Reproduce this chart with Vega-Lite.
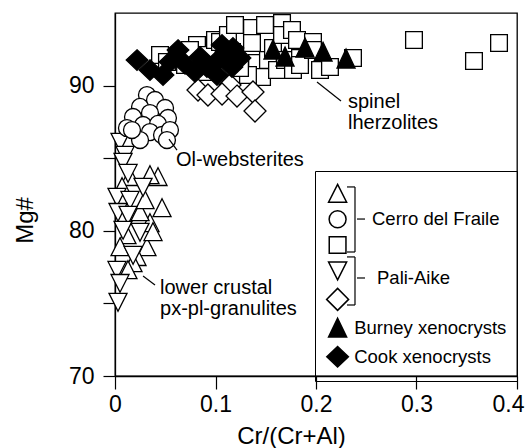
{
  "$schema": "https://vega.github.io/schema/vega-lite/v6.json",
  "width": 402,
  "height": 363,
  "autosize": {"type": "none"},
  "padding": {"left": 115, "top": 13, "right": 11, "bottom": 72},
  "background": "white",
  "config": {
    "font": "Liberation Sans",
    "view": {"stroke": "black", "strokeWidth": 1.3},
    "axis": {
      "grid": false,
      "domainColor": "black",
      "domainWidth": 1.3,
      "tickColor": "black",
      "tickWidth": 1.2,
      "labelColor": "black",
      "titleColor": "black",
      "labelFont": "Liberation Sans",
      "titleFont": "Liberation Sans",
      "titleFontWeight": "normal",
      "labelFontSize": 23,
      "titleFontSize": 24
    }
  },
  "datasets": {
    "samples": [
      {"suite": "Cerro del Fraile granulite", "x": 0.0468, "y": 81.57},
      {"suite": "Cerro del Fraile granulite", "x": 0.0428, "y": 83.71},
      {"suite": "Cerro del Fraile granulite", "x": 0.0348, "y": 83.84},
      {"suite": "Cerro del Fraile granulite", "x": 0.0149, "y": 83.71},
      {"suite": "Cerro del Fraile granulite", "x": 0.007, "y": 83.02},
      {"suite": "Cerro del Fraile granulite", "x": 0.0318, "y": 78.88},
      {"suite": "Cerro del Fraile granulite", "x": 0.0219, "y": 78.2},
      {"suite": "Cerro del Fraile granulite", "x": 0.0119, "y": 79.71},
      {"suite": "Cerro del Fraile granulite", "x": 0.005, "y": 78.88},
      {"suite": "Cerro del Fraile granulite", "x": 0.0348, "y": 80.54},
      {"suite": "Cerro del Fraile granulite", "x": 0.0179, "y": 77.78},
      {"suite": "Cerro del Fraile granulite", "x": 0.0249, "y": 81.29},
      {"suite": "Cerro del Fraile granulite", "x": 0.0299, "y": 82.12},
      {"suite": "Cerro del Fraile granulite", "x": 0.0129, "y": 77.3},
      {"suite": "Cerro del Fraile granulite", "x": 0.0378, "y": 79.92},
      {"suite": "Pali-Aike granulite", "x": 0.005, "y": 86.12},
      {"suite": "Pali-Aike granulite", "x": 0.01, "y": 85.22},
      {"suite": "Pali-Aike granulite", "x": 0.008, "y": 84.74},
      {"suite": "Pali-Aike granulite", "x": 0.013, "y": 83.98},
      {"suite": "Pali-Aike granulite", "x": 0.002, "y": 82.33},
      {"suite": "Pali-Aike granulite", "x": 0.0149, "y": 82.12},
      {"suite": "Pali-Aike granulite", "x": 0.003, "y": 81.29},
      {"suite": "Pali-Aike granulite", "x": 0.013, "y": 81.09},
      {"suite": "Pali-Aike granulite", "x": 0.0279, "y": 83.02},
      {"suite": "Pali-Aike granulite", "x": 0.008, "y": 80.06},
      {"suite": "Pali-Aike granulite", "x": 0.0249, "y": 79.92},
      {"suite": "Pali-Aike granulite", "x": 0.018, "y": 78.33},
      {"suite": "Pali-Aike granulite", "x": 0.002, "y": 77.3},
      {"suite": "Pali-Aike granulite", "x": 0.005, "y": 76.4},
      {"suite": "Pali-Aike granulite", "x": 0.003, "y": 75.1},
      {"suite": "Cerro del Fraile Ol-websterite", "x": 0.0318, "y": 89.35},
      {"suite": "Cerro del Fraile Ol-websterite", "x": 0.0398, "y": 89.01},
      {"suite": "Cerro del Fraile Ol-websterite", "x": 0.0249, "y": 88.53},
      {"suite": "Cerro del Fraile Ol-websterite", "x": 0.0498, "y": 88.46},
      {"suite": "Cerro del Fraile Ol-websterite", "x": 0.0179, "y": 87.84},
      {"suite": "Cerro del Fraile Ol-websterite", "x": 0.0348, "y": 88.11},
      {"suite": "Cerro del Fraile Ol-websterite", "x": 0.0527, "y": 87.77},
      {"suite": "Cerro del Fraile Ol-websterite", "x": 0.0279, "y": 87.29},
      {"suite": "Cerro del Fraile Ol-websterite", "x": 0.0119, "y": 87.08},
      {"suite": "Cerro del Fraile Ol-websterite", "x": 0.0428, "y": 87.36},
      {"suite": "Cerro del Fraile Ol-websterite", "x": 0.0348, "y": 86.8},
      {"suite": "Cerro del Fraile Ol-websterite", "x": 0.0468, "y": 86.6},
      {"suite": "Cerro del Fraile Ol-websterite", "x": 0.0249, "y": 86.25},
      {"suite": "Cerro del Fraile Ol-websterite", "x": 0.0169, "y": 86.94},
      {"suite": "Cerro del Fraile Ol-websterite", "x": 0.0547, "y": 86.94},
      {"suite": "Cerro del Fraile Ol-websterite", "x": 0.0517, "y": 86.25},
      {"suite": "Cerro del Fraile spinel lherzolite", "x": 0.0448, "y": 92.11},
      {"suite": "Cerro del Fraile spinel lherzolite", "x": 0.0517, "y": 91.63},
      {"suite": "Cerro del Fraile spinel lherzolite", "x": 0.0816, "y": 92.8},
      {"suite": "Cerro del Fraile spinel lherzolite", "x": 0.0915, "y": 92.11},
      {"suite": "Cerro del Fraile spinel lherzolite", "x": 0.0995, "y": 93.14},
      {"suite": "Cerro del Fraile spinel lherzolite", "x": 0.1045, "y": 93.0},
      {"suite": "Cerro del Fraile spinel lherzolite", "x": 0.1124, "y": 93.48},
      {"suite": "Cerro del Fraile spinel lherzolite", "x": 0.1164, "y": 92.31},
      {"suite": "Cerro del Fraile spinel lherzolite", "x": 0.1194, "y": 94.17},
      {"suite": "Cerro del Fraile spinel lherzolite", "x": 0.1363, "y": 93.97},
      {"suite": "Cerro del Fraile spinel lherzolite", "x": 0.1363, "y": 92.93},
      {"suite": "Cerro del Fraile spinel lherzolite", "x": 0.1413, "y": 91.56},
      {"suite": "Cerro del Fraile spinel lherzolite", "x": 0.1463, "y": 90.59},
      {"suite": "Cerro del Fraile spinel lherzolite", "x": 0.1493, "y": 94.17},
      {"suite": "Cerro del Fraile spinel lherzolite", "x": 0.1522, "y": 91.76},
      {"suite": "Cerro del Fraile spinel lherzolite", "x": 0.1572, "y": 92.59},
      {"suite": "Cerro del Fraile spinel lherzolite", "x": 0.1612, "y": 91.07},
      {"suite": "Cerro del Fraile spinel lherzolite", "x": 0.1662, "y": 94.31},
      {"suite": "Cerro del Fraile spinel lherzolite", "x": 0.1662, "y": 93.48},
      {"suite": "Cerro del Fraile spinel lherzolite", "x": 0.1692, "y": 91.76},
      {"suite": "Cerro del Fraile spinel lherzolite", "x": 0.1761, "y": 93.83},
      {"suite": "Cerro del Fraile spinel lherzolite", "x": 0.1771, "y": 91.07},
      {"suite": "Cerro del Fraile spinel lherzolite", "x": 0.1811, "y": 93.14},
      {"suite": "Cerro del Fraile spinel lherzolite", "x": 0.1841, "y": 91.9},
      {"suite": "Cerro del Fraile spinel lherzolite", "x": 0.1841, "y": 91.42},
      {"suite": "Cerro del Fraile spinel lherzolite", "x": 0.197, "y": 93.0},
      {"suite": "Cerro del Fraile spinel lherzolite", "x": 0.197, "y": 92.45},
      {"suite": "Cerro del Fraile spinel lherzolite", "x": 0.204, "y": 91.07},
      {"suite": "Cerro del Fraile spinel lherzolite", "x": 0.2139, "y": 91.28},
      {"suite": "Cerro del Fraile spinel lherzolite", "x": 0.2368, "y": 91.9},
      {"suite": "Cerro del Fraile spinel lherzolite", "x": 0.1323, "y": 90.73},
      {"suite": "Cerro del Fraile spinel lherzolite", "x": 0.1244, "y": 91.21},
      {"suite": "Cerro del Fraile spinel lherzolite", "x": 0.0896, "y": 90.94},
      {"suite": "Cerro del Fraile spinel lherzolite", "x": 0.0697, "y": 91.42},
      {"suite": "Cerro del Fraile spinel lherzolite", "x": 0.0746, "y": 92.45},
      {"suite": "Cerro del Fraile spinel lherzolite", "x": 0.2975, "y": 93.14},
      {"suite": "Cerro del Fraile spinel lherzolite", "x": 0.3821, "y": 92.93},
      {"suite": "Cerro del Fraile spinel lherzolite", "x": 0.3572, "y": 91.69},
      {"suite": "Pali-Aike spinel lherzolite", "x": 0.1144, "y": 90.04},
      {"suite": "Pali-Aike spinel lherzolite", "x": 0.0826, "y": 89.7},
      {"suite": "Pali-Aike spinel lherzolite", "x": 0.0925, "y": 89.35},
      {"suite": "Pali-Aike spinel lherzolite", "x": 0.1065, "y": 89.42},
      {"suite": "Pali-Aike spinel lherzolite", "x": 0.1214, "y": 89.28},
      {"suite": "Pali-Aike spinel lherzolite", "x": 0.1373, "y": 89.56},
      {"suite": "Pali-Aike spinel lherzolite", "x": 0.1393, "y": 88.25},
      {"suite": "Burney xenocrysts", "x": 0.1572, "y": 92.45},
      {"suite": "Burney xenocrysts", "x": 0.1692, "y": 91.97},
      {"suite": "Burney xenocrysts", "x": 0.1891, "y": 92.59},
      {"suite": "Burney xenocrysts", "x": 0.207, "y": 92.31},
      {"suite": "Burney xenocrysts", "x": 0.2299, "y": 91.83},
      {"suite": "Cook xenocrysts", "x": 0.0219, "y": 91.76},
      {"suite": "Cook xenocrysts", "x": 0.0348, "y": 91.07},
      {"suite": "Cook xenocrysts", "x": 0.0478, "y": 90.73},
      {"suite": "Cook xenocrysts", "x": 0.0627, "y": 92.45},
      {"suite": "Cook xenocrysts", "x": 0.0697, "y": 91.49},
      {"suite": "Cook xenocrysts", "x": 0.0846, "y": 91.97},
      {"suite": "Cook xenocrysts", "x": 0.0915, "y": 91.28},
      {"suite": "Cook xenocrysts", "x": 0.1025, "y": 91.76},
      {"suite": "Cook xenocrysts", "x": 0.1124, "y": 92.11},
      {"suite": "Cook xenocrysts", "x": 0.1174, "y": 92.59},
      {"suite": "Cook xenocrysts", "x": 0.1015, "y": 90.73},
      {"suite": "Cook xenocrysts", "x": 0.1164, "y": 91.28},
      {"suite": "Cook xenocrysts", "x": 0.1244, "y": 91.9},
      {"suite": "Cook xenocrysts", "x": 0.0796, "y": 90.94},
      {"suite": "Cook xenocrysts", "x": 0.0547, "y": 91.63},
      {"suite": "Cook xenocrysts", "x": 0.1065, "y": 92.8}
    ],
    "leaders": [
      {"x": 0.201, "x2": 0.2249, "y": 90.25, "y2": 88.94},
      {"x": 0.0537, "x2": 0.0617, "y": 86.32, "y2": 85.56},
      {"x": 0.0279, "x2": 0.0398, "y": 76.89, "y2": 76.27},
      {"x": 0.2388, "x2": 0.2388, "y": 83.02, "y2": 78.54},
      {"x": 0.2308, "x2": 0.2388, "y": 83.02, "y2": 83.02},
      {"x": 0.2308, "x2": 0.2388, "y": 78.54, "y2": 78.54},
      {"x": 0.2408, "x2": 0.2488, "y": 80.81, "y2": 80.81},
      {"x": 0.2388, "x2": 0.2388, "y": 78.2, "y2": 74.89},
      {"x": 0.2308, "x2": 0.2388, "y": 78.2, "y2": 78.2},
      {"x": 0.2308, "x2": 0.2388, "y": 74.89, "y2": 74.89},
      {"x": 0.2408, "x2": 0.2488, "y": 76.75, "y2": 76.75}
    ],
    "labels": [
      {"x": 0.2318, "y": 88.84, "text": "spinel\nlherzolites"},
      {"x": 0.0607, "y": 84.88, "text": "Ol-websterites"},
      {"x": 0.0448, "y": 76.03, "text": "lower crustal\npx-pl-granulites"}
    ],
    "groups": [
      {"x": 0.2557, "y": 80.81, "text": "Cerro del Fraile"},
      {"x": 0.2607, "y": 76.75, "text": "Pali-Aike"}
    ]
  },
  "layer": [
    {
      "data": {"name": "samples"},
      "mark": {"type": "point", "filled": true, "stroke": "black", "strokeWidth": 1.3, "opacity": 1, "size": 484},
      "encoding": {
        "x": {
          "field": "x", "type": "quantitative",
          "scale": {"domain": [0, 0.4], "nice": false, "zero": false},
          "axis": {
            "values": [0, 0.1, 0.2, 0.3, 0.4],
            "format": ".1~f",
            "tickSize": 13,
            "labelPadding": 4,
            "labelFlush": false,
            "labelOverlap": false,
            "labelOffset": {"condition": {"test": "datum.value > 0.35", "value": -9}, "value": 0},
            "title": "Cr/(Cr+Al)",
            "titlePadding": 8,
            "titleX": 176
          }
        },
        "y": {
          "field": "y", "type": "quantitative",
          "scale": {"domain": [70, 95], "nice": false, "zero": false},
          "axis": {
            "values": [70, 75, 80, 85, 90],
            "labelExpr": "datum.value % 10 === 0 ? datum.label : ''",
            "tickSize": 12,
            "labelPadding": 9,
            "labelOverlap": false,
            "title": "Mg#",
            "titleX": -90,
            "titleY": 207,
            "titleAngle": 270,
            "titleBaseline": "middle",
            "titleAlign": "center"
          }
        },
        "shape": {
          "field": "suite", "type": "nominal",
          "scale": {
            "domain": ["Cerro del Fraile granulite", "Cerro del Fraile Ol-websterite", "Cerro del Fraile spinel lherzolite", "Pali-Aike granulite", "Pali-Aike spinel lherzolite", "Burney xenocrysts", "Cook xenocrysts"],
            "range": [
              "M0,-0.84L0.82,0.78L-0.82,0.78Z",
              "M-0.77,0A0.77,0.77,0,1,0,0.77,0A0.77,0.77,0,1,0,-0.77,0Z",
              "M-0.76,-0.76H0.76V0.76H-0.76Z",
              "M0,0.84L0.82,-0.78L-0.82,-0.78Z",
              "M0,-1L1,0L0,1L-1,0Z",
              "M0,-0.9L0.82,0.82L-0.82,0.82Z",
              "M0,-0.93L0.98,0L0,0.93L-0.98,0Z"
            ]
          },
          "legend": {
            "title": null, "orient": "none", "legendX": 200, "legendY": 158,
            "padding": 10.6, "rowPadding": 1.7, "labelOffset": 4.6, "symbolSize": 484,
            "strokeColor": "black", "fillColor": "transparent",
            "labelFont": "Liberation Sans", "labelFontSize": 18.5, "labelColor": "black", "labelLimit": 220,
            "labelExpr": "indexof(datum.label, 'xenocrysts') >= 0 ? datum.label : ''",
            "encode": {"symbols": {"update": {"stroke": {"value": "black"}, "strokeWidth": {"value": 1.3}, "opacity": {"value": 1}}}}
          }
        },
        "fill": {
          "field": "suite", "type": "nominal",
          "scale": {
            "domain": ["Cerro del Fraile granulite", "Cerro del Fraile Ol-websterite", "Cerro del Fraile spinel lherzolite", "Pali-Aike granulite", "Pali-Aike spinel lherzolite", "Burney xenocrysts", "Cook xenocrysts"],
            "range": ["white", "white", "white", "white", "white", "black", "black"]
          },
          "legend": {
            "title": null, "orient": "none", "legendX": 200, "legendY": 158,
            "padding": 10.6, "rowPadding": 1.7, "labelOffset": 4.6, "symbolSize": 484,
            "strokeColor": "black", "fillColor": "transparent",
            "labelFont": "Liberation Sans", "labelFontSize": 18.5, "labelColor": "black", "labelLimit": 220,
            "labelExpr": "indexof(datum.label, 'xenocrysts') >= 0 ? datum.label : ''",
            "encode": {"symbols": {"update": {"stroke": {"value": "black"}, "strokeWidth": {"value": 1.3}, "opacity": {"value": 1}}}}
          }
        }
      }
    },
    {
      "data": {"name": "leaders"},
      "mark": {"type": "rule", "stroke": "black", "strokeWidth": 1.2},
      "encoding": {
        "x": {"field": "x", "type": "quantitative"},
        "x2": {"field": "x2"},
        "y": {"field": "y", "type": "quantitative"},
        "y2": {"field": "y2"}
      }
    },
    {
      "data": {"name": "labels"},
      "mark": {"type": "text", "align": "left", "baseline": "middle", "font": "Liberation Sans", "fontSize": 20, "lineHeight": 21, "lineBreak": "\n", "color": "black"},
      "encoding": {
        "x": {"field": "x", "type": "quantitative"},
        "y": {"field": "y", "type": "quantitative"},
        "text": {"field": "text"}
      }
    },
    {
      "data": {"name": "groups"},
      "mark": {"type": "text", "align": "left", "baseline": "middle", "font": "Liberation Sans", "fontSize": 18.5, "color": "black"},
      "encoding": {
        "x": {"field": "x", "type": "quantitative"},
        "y": {"field": "y", "type": "quantitative"},
        "text": {"field": "text"}
      }
    }
  ]
}
